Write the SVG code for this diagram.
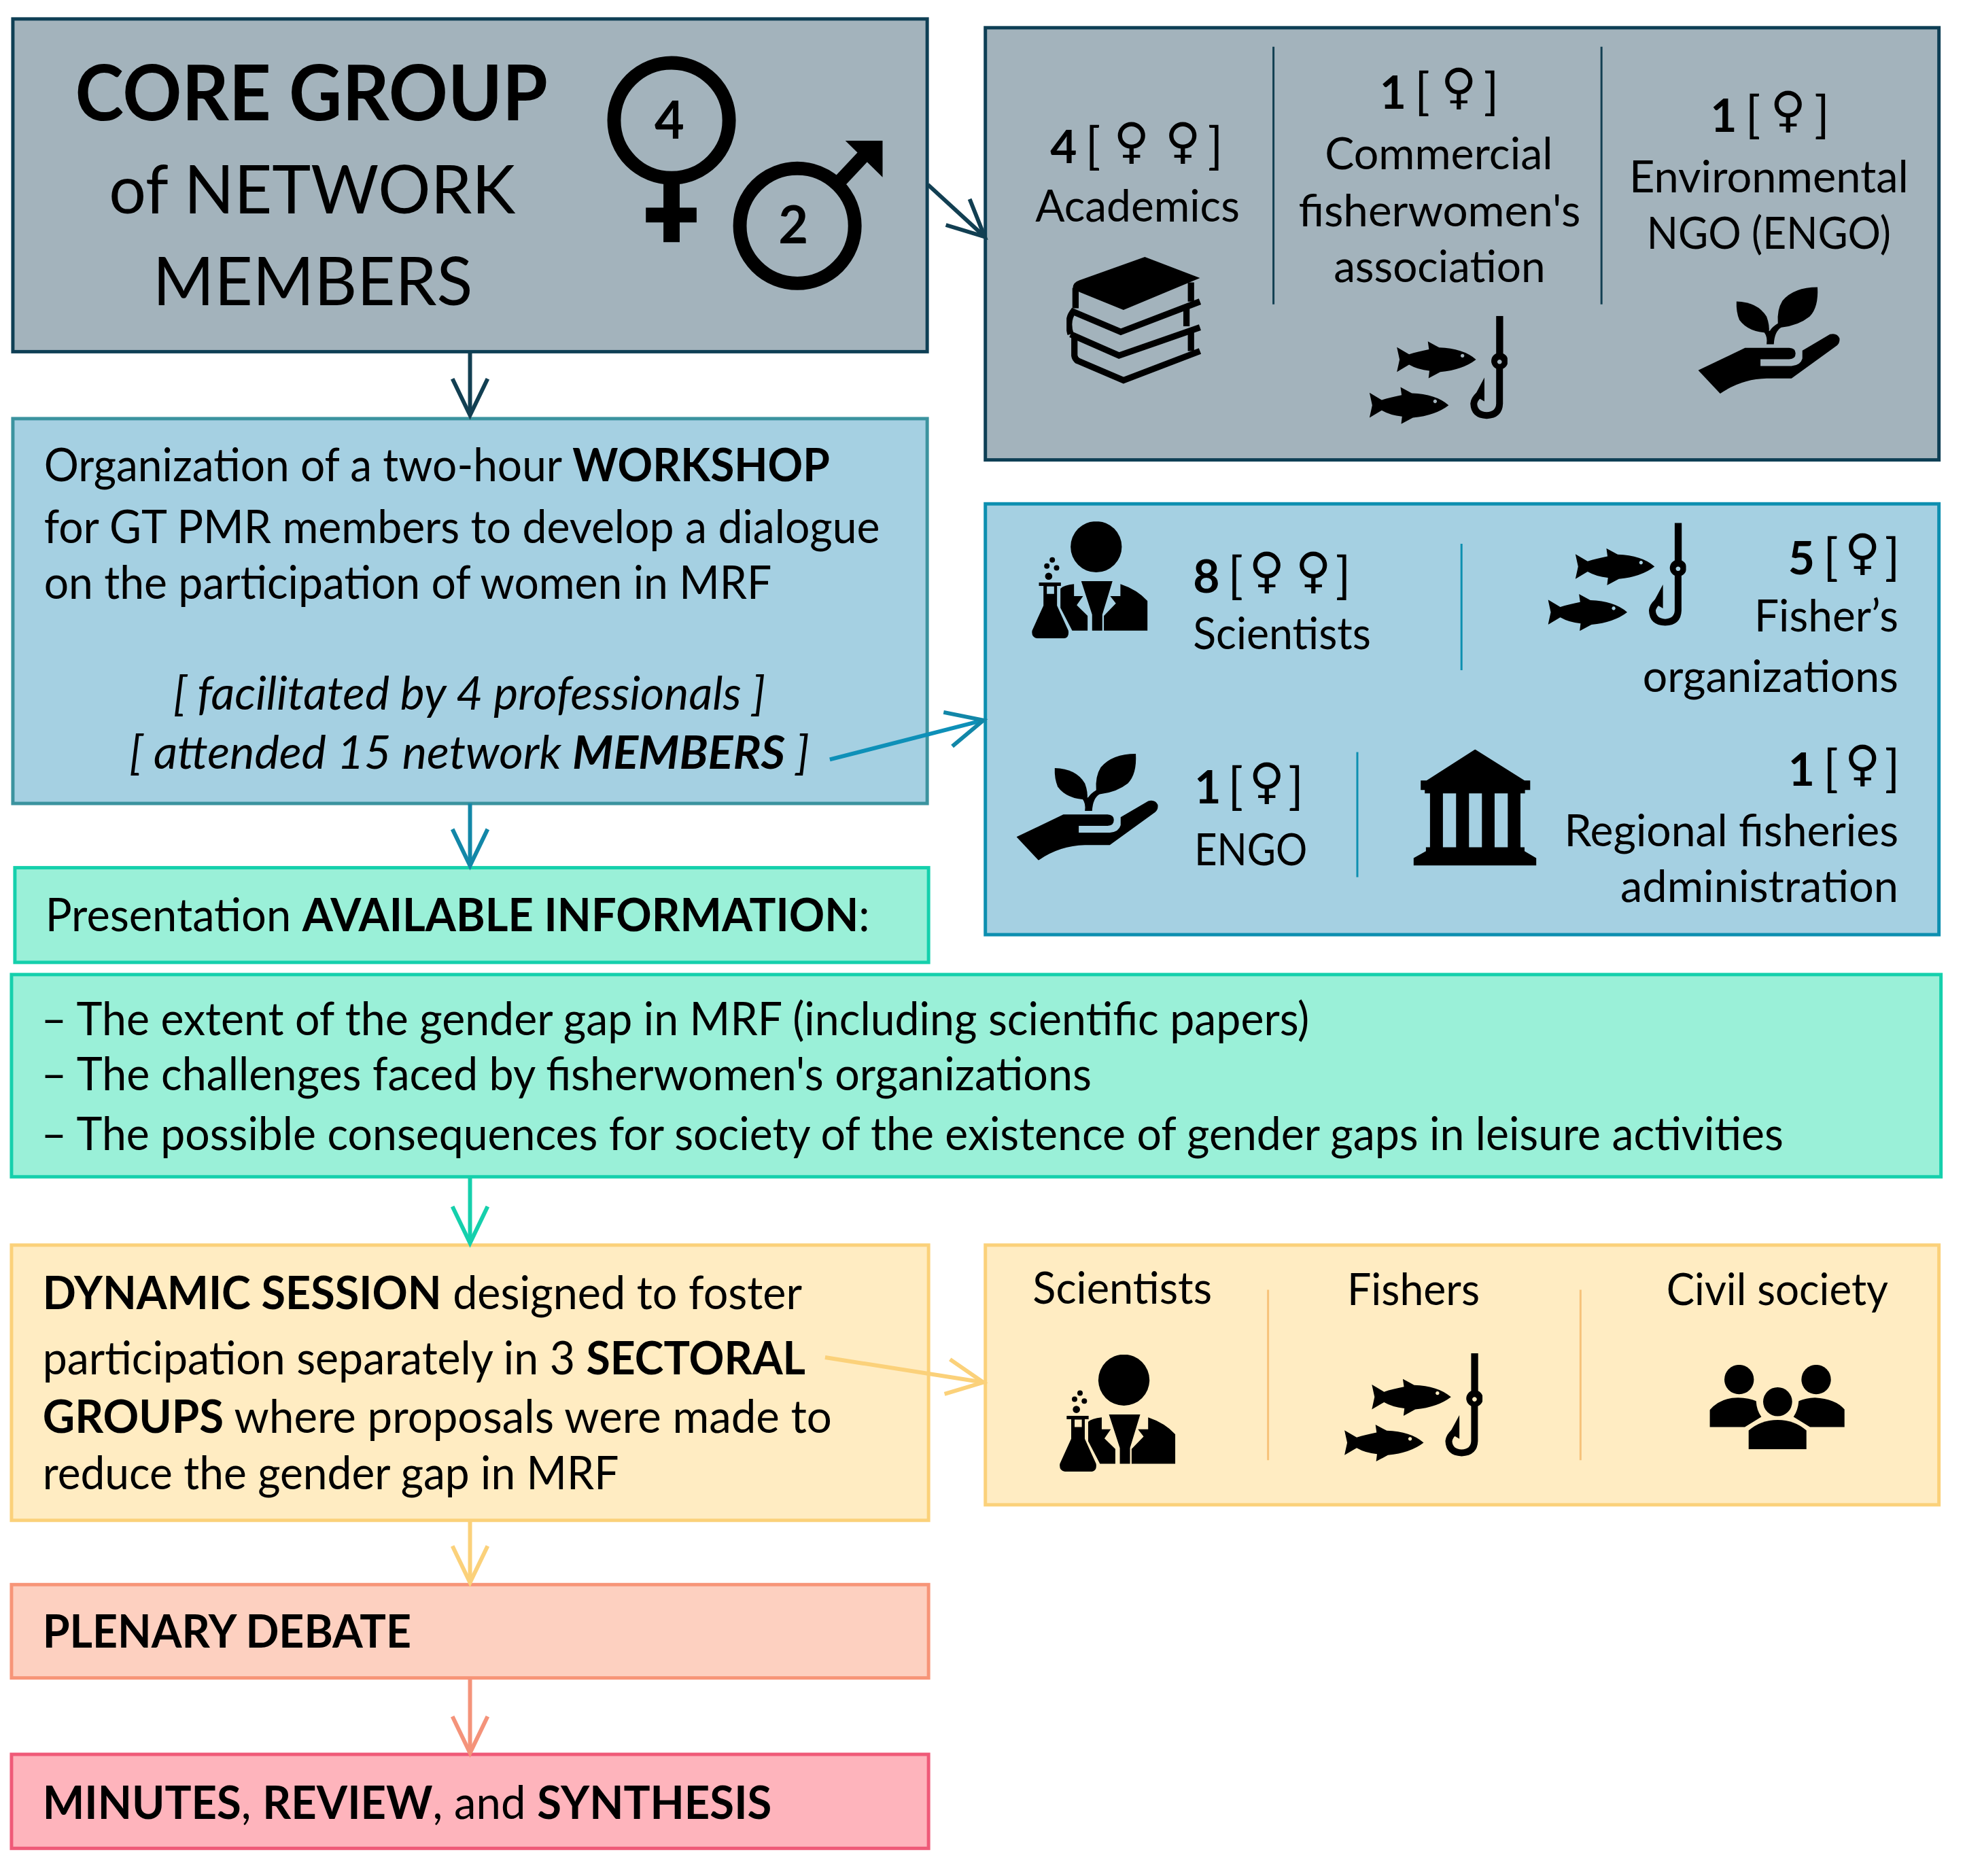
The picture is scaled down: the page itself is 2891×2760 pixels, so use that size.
<svg xmlns="http://www.w3.org/2000/svg" width="2891" height="2760" viewBox="0 0 2891 2760">
<style>
text{font-family:Lato,"Liberation Sans",sans-serif;fill:#000}
.t{font-size:68px}
.g{font-size:66px}
.b{font-weight:700}
.i{font-style:italic}
.f{font-family:"DejaVu Sans",sans-serif;font-size:72px;font-weight:700;text-anchor:middle}
.n{font-size:68px;font-weight:700}
.br{font-size:74px;font-weight:400;text-anchor:middle}
.sk{stroke-width:5}
.arr{fill:none;stroke-width:6}
.dv{stroke-width:3;fill:none}
</style>
<defs>
<marker id="a1" markerUnits="userSpaceOnUse" markerWidth="70" markerHeight="70" refX="60" refY="30" orient="auto"><path d="M6 4L60 30L6 56" fill="none" stroke="#123f52" stroke-width="6"/></marker>
<marker id="a2" markerUnits="userSpaceOnUse" markerWidth="70" markerHeight="70" refX="60" refY="30" orient="auto"><path d="M6 4L60 30L6 56" fill="none" stroke="#1287a8" stroke-width="6"/></marker>
<marker id="a3" markerUnits="userSpaceOnUse" markerWidth="70" markerHeight="70" refX="60" refY="30" orient="auto"><path d="M6 4L60 30L6 56" fill="none" stroke="#15d0ac" stroke-width="6"/></marker>
<marker id="a4" markerUnits="userSpaceOnUse" markerWidth="70" markerHeight="70" refX="60" refY="30" orient="auto"><path d="M6 4L60 30L6 56" fill="none" stroke="#fbd17a" stroke-width="6"/></marker>
<marker id="a5" markerUnits="userSpaceOnUse" markerWidth="70" markerHeight="70" refX="60" refY="30" orient="auto"><path d="M6 4L60 30L6 56" fill="none" stroke="#f4937a" stroke-width="6"/></marker>
<symbol id="fish" viewBox="47 42 610 478">
<path id="onefish" fill-rule="evenodd" d="M168 180L222 212Q260 200 310 190L305 155L355 182Q460 185 518 235Q460 280 360 290L308 318L312 285Q260 280 222 258L168 290L180 235ZM458 210a8 8 0 1 0 .1 0Z"/>
<use href="#onefish" x="-121" y="202"/>
<path fill-rule="evenodd" d="M607 42H638V208A37 37 0 1 1 607 208ZM622 235a10 10 0 1 0 .1 0Z"/>
<path d="M622 270V430Q620 480 565 482Q510 480 508 430Q510 410 530 392" fill="none" stroke="#000" stroke-width="30"/>
<path d="M555 315V420L512 395Z"/>
</symbol>
<symbol id="books" viewBox="57 52 598 568">
<path d="M405 52L650 145L310 287L115 208L85 190Q85 165 115 155Z"/>
<g fill="none" stroke="#000" stroke-width="28"><path d="M650 250L298 385L75 290"/><path d="M650 365L290 490L75 395"/><path d="M650 470L310 600L105 512"/><path d="M610 165V250M590 270V360M610 375V470"/><path d="M97 190V280M90 290Q55 330 75 395M92 400V490Q94 505 108 515"/></g>
</symbol>
<symbol id="hand" viewBox="28 68 627 472">
<path d="M197 133Q290 135 330 200Q345 240 340 272Q250 270 210 215Q195 180 197 133Z"/>
<path d="M330 322Q335 290 320 270L345 262Q355 245 380 230Q375 170 400 130Q450 70 555 70Q560 160 520 200Q470 240 395 248Q365 265 362 322Z"/>
<path d="M28 437L235 338H430Q458 340 458 362Q458 388 430 388H303V418H440Q480 415 488 385V350L610 278Q640 270 652 295Q655 315 640 328L440 473H330Q220 475 125 540Z"/>
</symbol>
<symbol id="sci" viewBox="52 48 513 517">
<circle cx="338" cy="160" r="113"/>
<path d="M272 312H410L365 460V530H320V460Z"/>
<path d="M240 325V378H280L252 418L300 465V530H232L180 430V345Q195 330 240 325Z"/>
<path d="M445 325Q520 350 565 400V530H372V465L425 410L400 378H445Z"/>
<path fill-rule="evenodd" d="M85 318H182V333H165V420L215 530Q220 562 195 565H80Q50 562 55 530L105 420V333H85ZM120 335H152V368H120Z"/>
<circle cx="128" cy="290" r="16"/><circle cx="120" cy="245" r="12"/><circle cx="163" cy="253" r="12"/><circle cx="144" cy="218" r="12"/>
</symbol>
<symbol id="mus" viewBox="30 38 543 513"><path fill-rule="evenodd" d="M302 38L520 175H545V217H522V232H502V470H520V487L572 518V551H30V518L85 487V470H103V232H80V217H62V175H88ZM160 232V470H218V232ZM275 232V470H332V232ZM388 232V470H446V232Z"/></symbol>
<symbol id="ppl" viewBox="15 25 597 373"><circle cx="145" cy="90" r="65"/><circle cx="485" cy="90" r="65"/><circle cx="315" cy="188" r="64"/><path d="M15 300V225Q60 170 140 170Q190 172 220 185Q222 225 243 255L170 300Z"/><path d="M610 300V222Q570 175 480 170Q440 172 408 185Q405 225 385 255L458 300Z"/><path d="M187 398V315Q240 268 315 268Q390 268 442 315V398Z"/></symbol>
</defs>
<rect width="2891" height="2760" fill="#fff"/>
<g transform="scale(.995)">

<g id="core">
<rect x="19" y="28" width="1352" height="492" fill="#a3b3bc" stroke="#0e3f55" class="sk"/>
<text class="b" font-size="113" x="111" y="178" textLength="699" lengthAdjust="spacingAndGlyphs">CORE GROUP</text>
<text font-size="100" x="161" y="316" textLength="601" lengthAdjust="spacingAndGlyphs">of NETWORK</text>
<text font-size="100" x="226" y="451" textLength="473" lengthAdjust="spacingAndGlyphs">MEMBERS</text>
<g fill="none" stroke="#000"><circle cx="993" cy="178" r="85" stroke-width="20"/><path d="M993 260V358" stroke-width="24"/><path d="M955 318H1030" stroke-width="22"/><circle cx="1179" cy="334" r="85" stroke-width="20"/><path d="M1238 272L1285 222" stroke-width="20"/></g>
<path d="M1250 208H1305V262Z"/>
<text class="b" font-size="76" x="990" y="205" text-anchor="middle">4</text>
<text class="b" font-size="76" x="1173" y="360" text-anchor="middle">2</text>
</g>

<g id="core-members">
<rect x="1457" y="41" width="1410" height="639" fill="#a3b3bc" stroke="#0e3f55" class="sk"/>
<path class="dv" stroke="#123f52" d="M1883 69V450M2368 69V450"/>
<text class="n" x="1553" y="241">4</text><text class="br" x="1616" y="241">[</text><text class="f" x="1673" y="233">♀</text><text class="f" x="1749" y="233">♀</text><text class="br" x="1797" y="241">]</text>
<text class="g" x="1531" y="328" textLength="302" lengthAdjust="spacingAndGlyphs">Academics</text>
<use href="#books" x="1577" y="380" width="199" height="189"/>
<text class="n" x="2040" y="161">1</text><text class="br" x="2103" y="161">[</text><text class="f" x="2157" y="153">♀</text><text class="br" x="2205" y="161">]</text>
<text class="g" x="1959" y="250" textLength="337" lengthAdjust="spacingAndGlyphs">Commercial</text>
<text class="g" x="1920" y="335" textLength="417" lengthAdjust="spacingAndGlyphs">fisherwomen's</text>
<text class="g" x="1972" y="417" textLength="313" lengthAdjust="spacingAndGlyphs">association</text>
<use href="#fish" x="2025" y="467" width="204" height="160"/>
<text class="n" x="2529" y="195">1</text><text class="br" x="2592" y="195">[</text><text class="f" x="2644" y="187">♀</text><text class="br" x="2694" y="195">]</text>
<text class="g" x="2409" y="284" textLength="413" lengthAdjust="spacingAndGlyphs">Environmental</text>
<text class="g" x="2435" y="368" textLength="361" lengthAdjust="spacingAndGlyphs">NGO (ENGO)</text>
<use href="#hand" x="2511" y="424" width="210" height="158"/>
</g>

<g id="workshop">
<rect x="19" y="619" width="1352" height="569" fill="#a5d0e2" stroke="#3b939f" class="sk"/>
<text class="t" x="65" y="712" textLength="1162" lengthAdjust="spacingAndGlyphs">Organization of a two-hour <tspan class="b">WORKSHOP</tspan></text>
<text class="t" x="65" y="803" textLength="1236" lengthAdjust="spacingAndGlyphs">for GT PMR members to develop a dialogue</text>
<text class="t" x="65" y="885" textLength="1076" lengthAdjust="spacingAndGlyphs">on the participation of women in MRF</text>
<text class="t i" x="256" y="1049" textLength="876" lengthAdjust="spacingAndGlyphs">[ facilitated by 4 professionals ]</text>
<text class="t i" x="191" y="1137" textLength="1006" lengthAdjust="spacingAndGlyphs">[ attended 15 network <tspan class="b">MEMBERS</tspan> ]</text>
</g>

<g id="workshop-members">
<rect x="1457" y="745" width="1410" height="637" fill="#a5d0e2" stroke="#0d8fb0" class="sk"/>
<path class="dv" stroke="#0d8fb0" d="M2161 804V991M2007 1112V1297"/>
<use href="#sci" x="1525" y="771" width="172" height="173"/>
<text class="n" x="1764" y="876">8</text><text class="br" x="1827" y="876">[</text><text class="f" x="1873" y="868">♀</text><text class="f" x="1942" y="868">♀</text><text class="br" x="1986" y="876">]</text>
<text class="g" x="1764" y="960" textLength="263" lengthAdjust="spacingAndGlyphs">Scientists</text>
<use href="#fish" x="2289" y="773" width="204" height="160"/>
<text class="n" x="2644" y="849">5</text><text class="br" x="2707" y="849">[</text><text class="f" x="2754" y="841">♀</text><text class="br" x="2798" y="849">]</text>
<text class="g" x="2594" y="934" textLength="213" lengthAdjust="spacingAndGlyphs">Fisher’s</text>
<text class="g" x="2429" y="1023" textLength="378" lengthAdjust="spacingAndGlyphs">organizations</text>
<use href="#hand" x="1503" y="1114" width="210" height="158"/>
<text class="n" x="1766" y="1188">1</text><text class="br" x="1827" y="1188">[</text><text class="f" x="1873" y="1180">♀</text><text class="br" x="1916" y="1188">]</text>
<text class="g" x="1766" y="1279" textLength="167" lengthAdjust="spacingAndGlyphs">ENGO</text>
<use href="#mus" x="2090" y="1108" width="182" height="172"/>
<text class="n" x="2644" y="1162">1</text><text class="br" x="2707" y="1162">[</text><text class="f" x="2754" y="1154">♀</text><text class="br" x="2798" y="1162">]</text>
<text class="g" x="2313" y="1251" textLength="494" lengthAdjust="spacingAndGlyphs">Regional fisheries</text>
<text class="g" x="2396" y="1334" textLength="411" lengthAdjust="spacingAndGlyphs">administration</text>
</g>

<g id="presentation">
<rect x="22" y="1283" width="1351" height="140" fill="#9af0d8" stroke="#15d0ac" class="sk"/>
<text class="t" x="67" y="1377" textLength="1219" lengthAdjust="spacingAndGlyphs">Presentation <tspan class="b">AVAILABLE INFORMATION</tspan>:</text>
</g>

<g id="information">
<rect x="17" y="1441" width="2853" height="299" fill="#9af0d8" stroke="#15d0ac" class="sk"/>
<text class="t" x="61" y="1531" textLength="1875" lengthAdjust="spacingAndGlyphs">– The extent of the gender gap in MRF (including scientific papers)</text>
<text class="t" x="61" y="1612" textLength="1553" lengthAdjust="spacingAndGlyphs">– The challenges faced by fisherwomen's organizations</text>
<text class="t" x="61" y="1701" textLength="2576" lengthAdjust="spacingAndGlyphs">– The possible consequences for society of the existence of gender gaps in leisure activities</text>
</g>

<g id="dynamic">
<rect x="17" y="1841" width="1356" height="407" fill="#ffecc2" stroke="#fbd17a" class="sk"/>
<text class="t" x="63" y="1936" textLength="1123" lengthAdjust="spacingAndGlyphs"><tspan class="b">DYNAMIC SESSION</tspan> designed to foster</text>
<text class="t" x="63" y="2032" textLength="1128" lengthAdjust="spacingAndGlyphs">participation separately in 3 <tspan class="b">SECTORAL</tspan></text>
<text class="t" x="63" y="2119" textLength="1167" lengthAdjust="spacingAndGlyphs"><tspan class="b">GROUPS</tspan> where proposals were made to</text>
<text class="t" x="63" y="2202" textLength="852" lengthAdjust="spacingAndGlyphs">reduce the gender gap in MRF</text>
</g>

<g id="sectors">
<rect x="1457" y="1841" width="1410" height="384" fill="#ffecc2" stroke="#fbd17a" class="sk"/>
<path class="dv" stroke="#f7c27a" d="M1875 1907V2159M2337 1907V2159"/>
<text class="g" x="1527" y="1928" textLength="265" lengthAdjust="spacingAndGlyphs">Scientists</text>
<text class="g" x="1992" y="1930" textLength="196" lengthAdjust="spacingAndGlyphs">Fishers</text>
<text class="g" x="2464" y="1930" textLength="328" lengthAdjust="spacingAndGlyphs">Civil society</text>
<use href="#sci" x="1566" y="2003" width="172" height="173"/>
<use href="#fish" x="1988" y="2001" width="204" height="160"/>
<use href="#ppl" x="2528" y="2018" width="200" height="125"/>
</g>

<g id="plenary">
<rect x="17" y="2343" width="1356" height="138" fill="#fdd0c0" stroke="#f79578" class="sk"/>
<text class="t b" x="63" y="2436" textLength="545" lengthAdjust="spacingAndGlyphs">PLENARY DEBATE</text>
</g>

<g id="minutes">
<rect x="17" y="2594" width="1356" height="139" fill="#feb4bc" stroke="#ef5a78" class="sk"/>
<text class="t" x="63" y="2689" textLength="1078" lengthAdjust="spacingAndGlyphs"><tspan class="b">MINUTES</tspan>, <tspan class="b">REVIEW</tspan>, and <tspan class="b">SYNTHESIS</tspan></text>
</g>

<g id="connectors">
<path class="arr" stroke="#123f52" marker-end="url(#a1)" d="M695 521V614"/>
<path class="arr" stroke="#123f52" marker-end="url(#a1)" d="M1372 273L1456 350"/>
<path class="arr" stroke="#1287a8" marker-end="url(#a2)" d="M695 1188V1280"/>
<path class="arr" stroke="#0e90b8" marker-end="url(#a2)" d="M1227 1123L1454 1065"/>
<path class="arr" stroke="#15d0ac" marker-end="url(#a3)" d="M695 1740V1838"/>
<path class="arr" stroke="#fbd17a" marker-end="url(#a4)" d="M1220 2007L1454 2044"/>
<path class="arr" stroke="#fbd17a" marker-end="url(#a4)" d="M695 2248V2340"/>
<path class="arr" stroke="#f4937a" marker-end="url(#a5)" d="M695 2481V2592"/>
</g>
</g>
</svg>
